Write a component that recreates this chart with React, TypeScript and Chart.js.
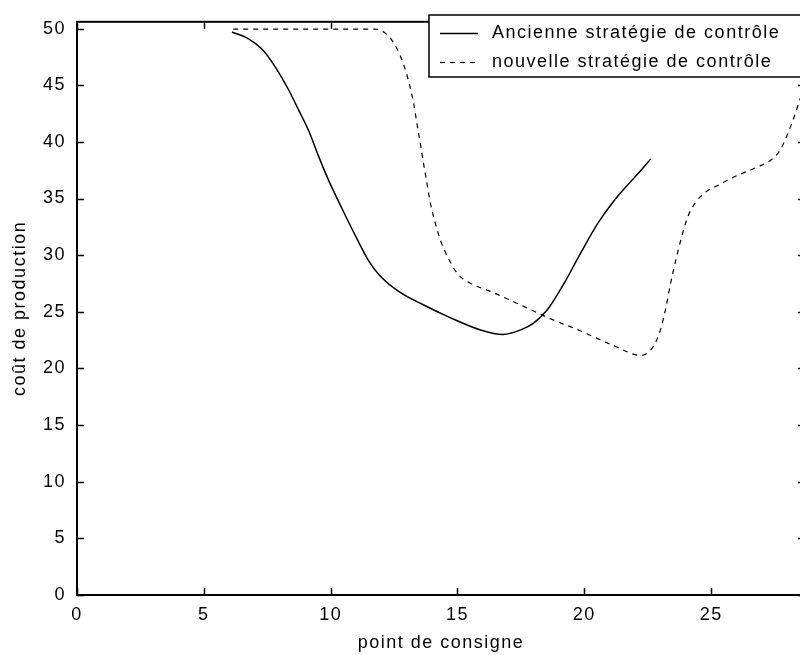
import React, { useEffect, useRef } from "react";
import { Chart, registerables } from "chart.js";

Chart.register(...registerables);

// ---- data ----
const seriesLabels = ["Ancienne stratégie de contrôle", "nouvelle stratégie de contrôle"];

const oldX = [6.11, 6.76, 7.29, 7.82, 8.34, 8.74, 9.13, 9.53, 9.92, 10.45, 10.98, 11.5, 11.9, 12.68, 13.67, 14.6, 15.91, 16.8, 17.49, 18.0, 18.55, 19.2, 19.86, 20.53, 21.17, 21.75, 22.2, 22.62];
const oldY = [49.7, 49.1, 48.2, 46.6, 44.6, 42.8, 41.0, 38.7, 36.6, 34.1, 31.7, 29.5, 28.3, 26.8, 25.6, 24.6, 23.4, 23.0, 23.4, 24.0, 25.2, 27.5, 30.2, 32.8, 34.8, 36.3, 37.4, 38.5];

const newX = [6.16, 9.0, 11.76, 12.23, 12.62, 12.88, 13.08, 13.28, 13.41, 13.54, 13.67, 13.8, 13.94, 14.13, 14.33, 14.6, 14.99, 15.52, 16.3, 17.49, 18.55, 19.86, 21.17, 22.23, 22.74, 23.0, 23.2, 23.4, 23.6, 23.8, 24.08, 24.4, 24.8, 25.3, 25.9, 26.84, 27.3, 27.7, 28.0, 28.3, 28.55, 28.9];
const newY = [49.95, 49.95, 49.95, 49.45, 48.2, 46.8, 45.3, 43.3, 41.5, 39.8, 38.0, 36.3, 34.5, 32.8, 31.3, 29.9, 28.4, 27.5, 26.8, 25.6, 24.5, 23.3, 22.0, 21.15, 22.0, 23.4, 25.2, 27.5, 29.5, 31.3, 33.4, 34.7, 35.6, 36.2, 36.9, 37.8, 38.3, 39.2, 40.6, 42.4, 44.1, 46.5];

const xTicks = [0, 5, 10, 15, 20, 25];
const yTicks = [0, 5, 10, 15, 20, 25, 30, 35, 40, 45, 50];
const xTitle = "point de consigne";
const yTitle = "coût de production";
const xMin = 0;
const xMax = 28.7;
const yMin = 0;
const yMax = 50.6;

const FONT = '"Liberation Sans", Arial, sans-serif';
const FSIZE = 18;

export default function App() {
  const ref = useRef<HTMLCanvasElement>(null);

  useEffect(() => {
    document.body.style.margin = "0";
    const canvas = ref.current;
    if (!canvas) return;

    const framePlugin = {
      id: "matlabFrame",
      beforeDraw(chart: any) {
        chart.ctx.letterSpacing = "1.5px";
      },
      afterDraw(chart: any) {
        const { ctx, chartArea } = chart;
        const { left, right, top, bottom } = chartArea;
        const xs = chart.scales.x;
        const ys = chart.scales.y;
        ctx.save();
        ctx.strokeStyle = "#000";
        ctx.lineWidth = 2;
        ctx.setLineDash([]);
        ctx.strokeRect(left, top, right - left, bottom - top);
        ctx.lineWidth = 1.5;
        const tl = 7;
        ctx.beginPath();
        xTicks.forEach((v) => {
          const px = Math.round(xs.getPixelForValue(v)) + 0.5;
          ctx.moveTo(px, bottom);
          ctx.lineTo(px, bottom - tl);
          ctx.moveTo(px, top);
          ctx.lineTo(px, top + tl);
        });
        yTicks.forEach((v) => {
          const py = Math.round(ys.getPixelForValue(v)) + 0.5;
          ctx.moveTo(left, py);
          ctx.lineTo(left + tl, py);
          ctx.moveTo(right, py);
          ctx.lineTo(right - tl, py);
        });
        ctx.stroke();

        // legend box
        const lx = 429;
        const ly = 15;
        const lw = right - 1 - lx;
        const lh = 62;
        ctx.fillStyle = "#fff";
        ctx.fillRect(lx, ly, lw, lh);
        ctx.lineWidth = 1.5;
        ctx.strokeRect(lx, ly, lw, lh);
        const rows = [33, 62];
        chart.data.datasets.forEach((ds: any, i: number) => {
          const y = rows[i];
          ctx.beginPath();
          ctx.lineWidth = ds.borderWidth;
          ctx.setLineDash(ds.borderDash || []);
          ctx.moveTo(440, y + 0.5);
          ctx.lineTo(478, y + 0.5);
          ctx.stroke();
          ctx.setLineDash([]);
          ctx.fillStyle = "#000";
          ctx.font = `${FSIZE}px ${FONT}`;
          ctx.textBaseline = "middle";
          ctx.textAlign = "left";
          ctx.fillText(ds.label, 492, y);
        });
        ctx.restore();
      },
    };

    const chart = new Chart(canvas, {
      type: "line",
      data: {
        datasets: [
          {
            label: seriesLabels[0],
            data: oldX.map((x, i) => ({ x, y: oldY[i] })),
            borderColor: "#000",
            borderWidth: 1.5,
            pointRadius: 0,
            fill: false,
            cubicInterpolationMode: "monotone",
          },
          {
            label: seriesLabels[1],
            data: newX.map((x, i) => ({ x, y: newY[i] })),
            borderColor: "#000",
            borderWidth: 1.2,
            borderDash: [5, 5],
            pointRadius: 0,
            fill: false,
            cubicInterpolationMode: "monotone",
          },
        ],
      },
      options: {
        animation: false,
        responsive: false,
        devicePixelRatio: 1,
        layout: { padding: { top: 16, right: 1, left: 0, bottom: 0 } },
        plugins: { legend: { display: false }, tooltip: { enabled: false } },
        scales: {
          x: {
            type: "linear",
            min: xMin,
            max: xMax,
            afterBuildTicks: (s: any) => {
              s.ticks = xTicks.map((v) => ({ value: v }));
            },
            afterFit: (s: any) => {
              s.height = 60;
            },
            grid: { display: false, drawTicks: false },
            border: { display: false },
            ticks: {
              color: "#000",
              font: { family: FONT, size: FSIZE },
              padding: 9,
              maxRotation: 0,
              autoSkip: false,
            },
            title: {
              display: true,
              text: xTitle,
              color: "#000",
              font: { family: FONT, size: FSIZE },
              padding: { top: 0, bottom: 1 },
            },
          },
          y: {
            type: "linear",
            min: yMin,
            max: yMax,
            afterBuildTicks: (s: any) => {
              s.ticks = yTicks.map((v) => ({ value: v }));
            },
            afterFit: (s: any) => {
              s.width = 77;
            },
            grid: { display: false, drawTicks: false },
            border: { display: false },
            ticks: {
              color: "#000",
              font: { family: FONT, size: FSIZE },
              padding: 11,
              autoSkip: false,
            },
            title: {
              display: true,
              text: yTitle,
              color: "#000",
              font: { family: FONT, size: FSIZE },
              padding: { top: 9, bottom: 0 },
            },
          },
        },
      },
      plugins: [framePlugin],
    });

    return () => chart.destroy();
  }, []);

  return (
    <div style={{ width: 800, height: 655, overflow: "hidden", background: "#fff" }}>
      <canvas ref={ref} width={806} height={655} style={{ display: "block" }} />
    </div>
  );
}
